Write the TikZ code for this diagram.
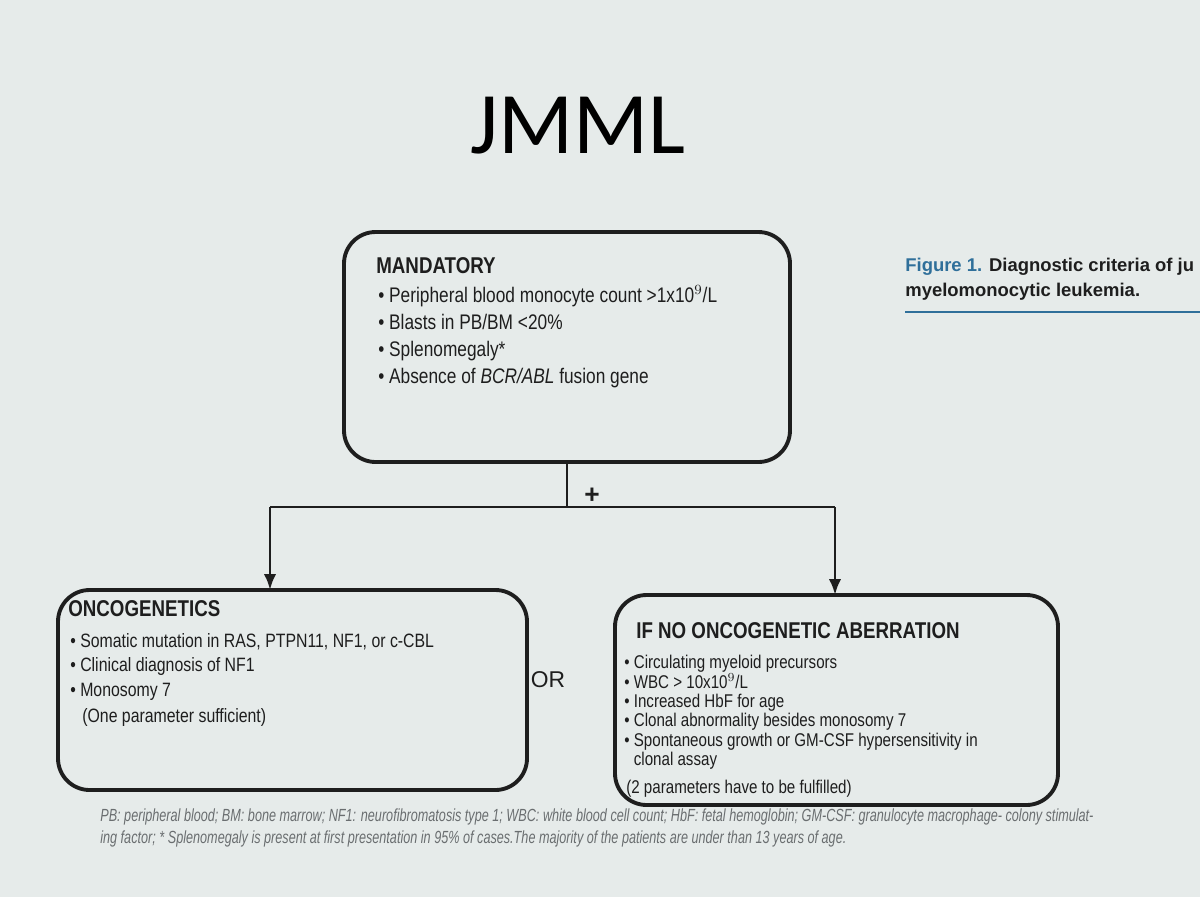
\documentclass[tikz,border=0pt]{standalone}
\usepackage{fontspec}
\setmainfont{Liberation Sans}
\newfontfamily\cond[FakeStretch=0.82]{Liberation Sans}
\newfontfamily\condit[FakeStretch=0.72]{Liberation Sans}
\newfontfamily\titlefont{Carlito}
\usetikzlibrary{arrows.meta}
\definecolor{bg}{HTML}{E6EBEA}
\definecolor{ink}{HTML}{1E1E1E}
\definecolor{capblue}{HTML}{2F6F9A}
\definecolor{footg}{HTML}{6A6E70}
\begin{document}
\begin{tikzpicture}[x=0.02cm,y=-0.02cm,
  box/.style={draw=ink,line width=2.2pt,rounded corners=18pt},
  conn/.style={draw=ink,line width=1.6pt},
  arr/.style={conn,-{Latex[length=9pt,width=7pt]}},
  txt/.style={anchor=north west,align=left,text=ink,font=\cond\fontsize{12}{15.5}\selectfont,inner sep=0pt},
  head/.style={anchor=north west,text=ink,font=\cond\bfseries\fontsize{13}{15}\selectfont,inner sep=0pt}]
\useasboundingbox (0,0) rectangle (1200,897);
\clip (0,0) rectangle (1200,897);
\fill[bg] (0,0) rectangle (1200,897);
\node[text=black,font=\titlefont\fontsize{50}{54}\selectfont] (title) at (578,126) {JMML};
% mandatory
\draw[box] (344,232) rectangle (790,462);
\node[head] (mh) at (376,257) {MANDATORY};
\node[txt] (mt) at (378,285) {• Peripheral blood monocyte count >1x10$^{9}$/L\\• Blasts in PB/BM <20\%\\• Splenomegaly*\\• Absence of \textit{BCR/ABL} fusion gene};
% connectors
\coordinate (j) at (567,507);
\coordinate (jl) at (270,507);
\coordinate (jr) at (835,507);
\coordinate (mb) at (567,462);
\draw[conn] (mb) -- (j);
\draw[conn] (jl) -- (jr);
\node[text=ink,font=\bfseries\fontsize{15}{15}\selectfont] (plus) at (592,496) {+};
% oncogenetics
\draw[box] (58,590) rectangle (527,790);
\coordinate (ot) at (270,590);
\draw[arr] (jl) -- (ot);
\node[head] (oh) at (68,600) {ONCOGENETICS};
\node[txt,font=\cond\fontsize{11}{14}\selectfont] (otx) at (70,633) {• Somatic mutation in RAS, PTPN11, NF1, or c-CBL\\• Clinical diagnosis of NF1\\• Monosomy 7};
\node[txt,font=\cond\fontsize{11}{14}\selectfont] (op) at (82,708) {(One parameter sufficient)};
\node[text=ink,font=\fontsize{13}{13}\selectfont] (or) at (548,680) {OR};
% if no
\draw[box] (615,595) rectangle (1058,805);
\coordinate (it) at (835,595);
\draw[arr] (jr) -- (it);
\node[head] (ih) at (636,622) {IF NO ONCOGENETIC ABERRATION};
\node[txt,font=\cond\fontsize{10.5}{11}\selectfont] (itx) at (624,655) {• Circulating myeloid precursors\\• WBC > 10x10$^{9}$/L\\• Increased HbF for age\\• Clonal abnormality besides monosomy 7\\• Spontaneous growth or GM-CSF hypersensitivity in\\\phantom{• }clonal assay};
\node[txt,font=\cond\fontsize{10.5}{14}\selectfont] (ip) at (626,780) {(2 parameters have to be fulfilled)};
% caption
\node[anchor=north west,inner sep=0pt,align=left,font=\fontsize{10.5}{14}\selectfont,text=ink] (cap) at (905,258) {\textcolor{capblue}{\bfseries Figure 1.} \textbf{Diagnostic criteria of ju}\\\textbf{myelomonocytic leukemia.}};
\coordinate (c1) at (905,312);
\coordinate (c2) at (1200,312);
\draw[capblue,line width=1.2pt] (c1) -- (c2);
% footnote
\node[anchor=north west,inner sep=0pt,align=left,text=footg,font=\condit\itshape\fontsize{10}{12.5}\selectfont] (foot) at (100,808) {PB: peripheral blood; BM: bone marrow; NF1: neurofibromatosis type 1; WBC: white blood cell count; HbF: fetal hemoglobin; GM-CSF: granulocyte macrophage- colony stimulat-\\ing factor; * Splenomegaly is present at first presentation in 95\% of cases.The majority of the patients are under than 13 years of age.};
\end{tikzpicture}
\end{document}
